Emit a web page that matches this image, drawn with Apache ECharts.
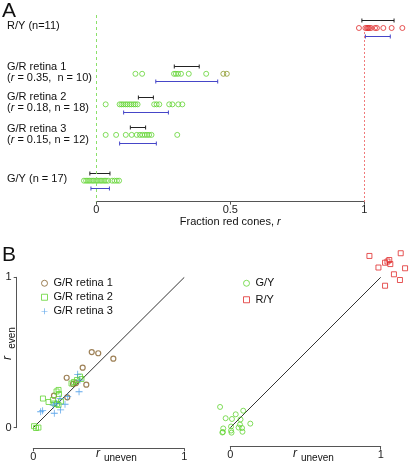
<!DOCTYPE html>
<html><head><meta charset="utf-8">
<script src="https://cdn.jsdelivr.net/npm/echarts@6/dist/echarts.min.js"></script>
<style>html,body{margin:0;padding:0;background:#fff}#c{width:410px;height:466px}</style>
</head><body><div id="c"></div>
<script>
// ---------- Panel A data ----------
const rowKeys = ['R/Y', 'G/R retina 1', 'G/R retina 2', 'G/R retina 3', 'G/Y'];
const rowPos = [0, 3, 5, 7, 10];   // row slots (vertical layout order)
const fracRY  = [0.980, 1.004, 1.010, 1.014, 1.018, 1.025, 1.040, 1.047, 1.071, 1.102, 1.142];
const fracGR1 = [0.146, 0.171, 0.290, 0.297, 0.305, 0.316, 0.345, 0.410, 0.474, 0.487];
const fracGR2 = [0.035, 0.087, 0.094, 0.101, 0.109, 0.116, 0.124, 0.131, 0.139, 0.146, 0.154, 0.216, 0.225, 0.235, 0.272, 0.284, 0.306, 0.321];
const fracGR3 = [0.035, 0.074, 0.110, 0.132, 0.151, 0.163, 0.172, 0.181, 0.189, 0.197, 0.206, 0.302];
const fracGY  = [-0.046, -0.038, -0.031, -0.024, -0.016, -0.009, -0.001, 0.006, 0.014, 0.021, 0.029, 0.036, 0.044, 0.059, 0.068, 0.077, 0.085];
// error bars [low, high] per row
const barBlack = [[0.991, 1.111], [0.291, 0.384], [0.157, 0.213], [0.127, 0.184], [-0.024, 0.051]];
const barBlue  = [[1.004, 1.097], [0.222, 0.453], [0.102, 0.269], [0.087, 0.224], [-0.020, 0.049]];
const xTicksA = [0, 0.5, 1];

// ---------- Panel B data ----------
const gr1Uneven = [0.387, 0.430, 0.530, 0.327, 0.221, 0.351, 0.263, 0.137, 0.225, 0.283];
const gr1Even   = [0.503, 0.495, 0.459, 0.399, 0.332, 0.286, 0.291, 0.213, 0.202, 0.297];
const gr2Uneven = [0.018, 0.034, 0.064, 0.101, 0.130, 0.154, 0.167, 0.170, 0.140, 0.167, 0.183, 0.253, 0.270, 0.289, 0.319, 0.309, 0.157, 0.005];
const gr2Even   = [-0.002, 0.001, 0.194, 0.171, 0.184, 0.241, 0.251, 0.224, 0.161, 0.151, 0.174, 0.294, 0.304, 0.317, 0.324, 0.340, 0.158, 0.010];
const gr3Uneven = [0.294, 0.303, 0.228, 0.210, 0.181, 0.132, 0.139, 0.049, 0.062, 0.177, 0.155, 0.309];
const gr3Even   = [0.355, 0.239, 0.206, 0.156, 0.118, 0.151, 0.096, 0.106, 0.113, 0.195, 0.162, 0.317];
const gyUneven  = [-0.068, -0.031, 0.036, 0.086, 0.011, 0.068, 0.133, 0.064, 0.055, 0.005, -0.047, -0.053, 0.008, 0.081, 0.005, -0.049, 0.078];
const gyEven    = [0.138, 0.063, 0.089, 0.113, 0.058, 0.055, 0.027, 0.021, 0.001, 0.008, -0.005, -0.032, -0.033, -0.027, -0.019, -0.029, -0.002];
const ryUneven  = [0.925, 0.985, 1.029, 1.057, 1.064, 1.045, 1.133, 1.162, 1.088, 1.128, 1.029];
const ryEven    = [1.142, 1.065, 1.097, 1.115, 1.088, 1.105, 1.160, 1.060, 1.020, 0.982, 0.944];
const diagonal = [0, 1];
const xTicksB = [0, 1];

// ---------- style ----------
const FONT = 'Liberation Sans, Arial, Helvetica, sans-serif';
const GREEN = '#63d433';
const OLIVE = '#8c9a2a';
const RED = '#e02a2a';
const BROWN = '#85602c';
const BLUE = '#3a92e6';
const BLUEBAR = '#4646c8';
const AXIS = '#555';

const fracRows = [fracRY, fracGR1, fracGR2, fracGR3, fracGY];
const rowColors = [RED, GREEN, GREEN, GREEN, GREEN];

const chart = echarts.init(document.getElementById('c'), null, {renderer: 'canvas'});

function renderBar(params, api) {
  const lo = api.coord([api.value(0), api.value(2)]);
  const hi = api.coord([api.value(1), api.value(2)]);
  const c = api.visual('color');
  const y = Math.round(lo[1]) + 0.5;
  const st = {stroke: c, lineWidth: 1};
  return {type: 'group', children: [
    {type: 'line', shape: {x1: lo[0], y1: y, x2: hi[0], y2: y}, style: st},
    {type: 'line', shape: {x1: lo[0], y1: y - 2, x2: lo[0], y2: y + 2}, style: st},
    {type: 'line', shape: {x1: hi[0], y1: y - 2, x2: hi[0], y2: y + 2}, style: st}
  ]};
}

const series = [];
// reference lines in panel A
series.push({
  type: 'line', xAxisIndex: 0, yAxisIndex: 0, data: [], silent: true,
  markLine: {symbol: 'none', silent: true, label: {show: false},
    lineStyle: {color: '#8be06a', type: [3, 3], width: 1},
    data: [{xAxis: 0}]}
});
series.push({
  type: 'line', xAxisIndex: 0, yAxisIndex: 0, data: [], silent: true,
  markLine: {symbol: 'none', silent: true, label: {show: false},
    lineStyle: {color: '#f07a7a', type: [2, 2], width: 1},
    data: [[{coord: [1, rowPos[0]]}, {coord: [1, 11.375]}]]}
});
// error bars
series.push({
  type: 'custom', name: 'bars-black', xAxisIndex: 0, yAxisIndex: 0,
  renderItem: renderBar, itemStyle: {color: '#222'}, encode: {x: [0, 1], y: 2},
  data: barBlack.map((b, i) => [b[0], b[1], rowPos[i] - 0.5])
});
series.push({
  type: 'custom', name: 'bars-blue', xAxisIndex: 0, yAxisIndex: 0,
  renderItem: renderBar, itemStyle: {color: BLUEBAR}, encode: {x: [0, 1], y: 2},
  data: barBlue.map((b, i) => [b[0], b[1], rowPos[i] + 0.5])
});
// points per row
fracRows.forEach((arr, i) => {
  series.push({
    type: 'scatter', name: 'A ' + rowKeys[i], xAxisIndex: 0, yAxisIndex: 0, clip: false,
    symbol: 'circle', symbolSize: 5,
    itemStyle: {color: 'rgba(0,0,0,0)', borderColor: rowColors[i], borderWidth: 1},
    data: arr.map(v => (i === 1 && v > 0.45)
      ? {value: [v, rowPos[i]], itemStyle: {borderColor: OLIVE}}
      : [v, rowPos[i]])
  });
});

// Panel B left
const zip = (a, b) => a.map((v, i) => [v, b[i]]);
series.push({type: 'line', xAxisIndex: 1, yAxisIndex: 1, data: diagonal.map(v => [v, v]),
  symbol: 'none', lineStyle: {color: '#333', width: 1}, silent: true, z: 1});
series.push({type: 'scatter', name: 'G/R retina 1', xAxisIndex: 1, yAxisIndex: 1, clip: false,
  symbol: 'circle', symbolSize: 5,
  itemStyle: {color: 'rgba(0,0,0,0)', borderColor: BROWN, borderWidth: 1.2},
  data: zip(gr1Uneven, gr1Even)});
series.push({type: 'scatter', name: 'G/R retina 2', xAxisIndex: 1, yAxisIndex: 1, clip: false,
  symbol: 'rect', symbolSize: 5,
  itemStyle: {color: 'rgba(0,0,0,0)', borderColor: GREEN, borderWidth: 1},
  data: zip(gr2Uneven, gr2Even)});
series.push({type: 'scatter', name: 'G/R retina 3', xAxisIndex: 1, yAxisIndex: 1, clip: false,
  symbol: 'path://M4,0h1v4h4v1h-4v4h-1v-4h-4v-1h4z', symbolSize: 7,
  itemStyle: {color: BLUE},
  data: zip(gr3Uneven, gr3Even)});

// Panel B right
series.push({type: 'line', xAxisIndex: 2, yAxisIndex: 2, data: diagonal.map(v => [v, v]),
  symbol: 'none', lineStyle: {color: '#333', width: 1}, silent: true, z: 1});
series.push({type: 'scatter', name: 'G/Y', xAxisIndex: 2, yAxisIndex: 2, clip: false,
  symbol: 'circle', symbolSize: 5,
  itemStyle: {color: 'rgba(0,0,0,0)', borderColor: GREEN, borderWidth: 1},
  data: zip(gyUneven, gyEven)});
series.push({type: 'scatter', name: 'R/Y', xAxisIndex: 2, yAxisIndex: 2, clip: false,
  symbol: 'rect', symbolSize: 5,
  itemStyle: {color: 'rgba(0,0,0,0)', borderColor: RED, borderWidth: 1},
  data: zip(ryUneven, ryEven)});

const axisCommon = {
  axisLine: {onZero: false, lineStyle: {color: AXIS, width: 1}},
  axisTick: {length: 3, lineStyle: {color: AXIS}},
  axisLabel: {fontSize: 11, color: '#222', fontFamily: FONT, margin: 3},
  splitLine: {show: false}
};

const txt = (x, y, text, extra) => Object.assign({
  type: 'text', x: x, y: y,
  style: Object.assign({text: text, font: '11px ' + FONT, fill: '#111',
    textVerticalAlign: 'middle',
    rich: {i: {fontStyle: 'italic', fontSize: 11, fontFamily: FONT, fill: '#111'}}}, extra || {})
});

const legendCommon = {
  orient: 'vertical', padding: 0, itemWidth: 6, itemHeight: 6, selectedMode: false,
  itemStyle: {borderWidth: 1},
  textStyle: {fontSize: 11, color: '#111', fontFamily: FONT, lineHeight: 13.5, padding: [0, 0, 0, 1]}
};

const option = {
  backgroundColor: '#fff',
  animation: false,
  textStyle: {fontFamily: FONT},
  grid: [
    {left: 96.3, width: 268, top: 15, height: 186.7},
    {left: 33.3, width: 151, top: 277.3, height: 150.4},
    {left: 230.3, width: 150.4, top: 277.3, height: 150.4}
  ],
  xAxis: [
    Object.assign({}, axisCommon, {gridIndex: 0, type: 'value', min: xTicksA[0], max: xTicksA[xTicksA.length - 1], interval: 0.5,
      axisLabel: Object.assign({}, axisCommon.axisLabel, {formatter: v => String(v)})}),
    Object.assign({}, axisCommon, {gridIndex: 1, type: 'value', min: xTicksB[0], max: xTicksB[1], interval: 1, offset: 20.6}),
    Object.assign({}, axisCommon, {gridIndex: 2, type: 'value', min: xTicksB[0], max: xTicksB[1], interval: 1, offset: 19})
  ],
  yAxis: [
    {gridIndex: 0, type: 'value', inverse: true, min: -0.851, max: 11.375, show: false},
    Object.assign({}, axisCommon, {gridIndex: 1, type: 'value', min: 0, max: 1, interval: 1, offset: 16.6,
      axisLabel: Object.assign({}, axisCommon.axisLabel, {margin: 5})}),
    {gridIndex: 2, type: 'value', min: 0, max: 1, show: false}
  ],
  legend: [
    Object.assign({}, legendCommon, {data: ['G/R retina 1', 'G/R retina 2', 'G/R retina 3'], left: 41, top: 276.5, itemGap: 0.5}),
    Object.assign({}, legendCommon, {data: ['G/Y', 'R/Y'], left: 243, top: 276.5, itemGap: 3})
  ],
  graphic: [
    txt(2, 11, 'A', {font: '21px ' + FONT}),
    txt(2, 255, 'B', {font: '21px ' + FONT}),
    txt(7, 26, 'R/Y (n=11)'),
    txt(7, 67, 'G/R retina 1'),
    txt(7, 78, '({i|r} = 0.35,  n = 10)'),
    txt(7, 96.5, 'G/R retina 2'),
    txt(7, 107.5, '({i|r} = 0.18, n = 18)'),
    txt(7, 128.5, 'G/R retina 3'),
    txt(7, 139.5, '({i|r} = 0.15, n = 12)'),
    txt(7, 178.5, 'G/Y (n = 17)'),
    txt(230.3, 222, 'Fraction red cones, {i|r}', {textAlign: 'center'}),
    // panel B axis titles
    txt(96, 453.5, 'r', {font: 'italic 12px ' + FONT}),
    txt(104, 458.5, 'uneven', {font: '10px ' + FONT}),
    txt(293, 453.5, 'r', {font: 'italic 12px ' + FONT}),
    txt(301, 458.5, 'uneven', {font: '10px ' + FONT}),
    {type: 'text', x: 7.5, y: 358, rotation: Math.PI / 2,
      style: {text: 'r', font: 'italic 12px ' + FONT, fill: '#111', textAlign: 'center', textVerticalAlign: 'middle'}},
    {type: 'text', x: 12.5, y: 338, rotation: Math.PI / 2,
      style: {text: 'even', font: '10px ' + FONT, fill: '#111', textAlign: 'center', textVerticalAlign: 'middle'}}
  ],
  series: series
};
chart.setOption(option);
</script>
</body></html>
